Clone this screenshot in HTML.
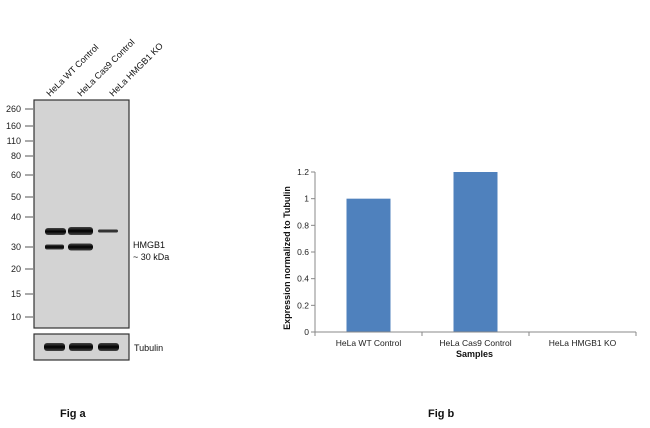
<!DOCTYPE html>
<html><head><meta charset="utf-8"><style>
body{margin:0;background:#fff;font-family:"Liberation Sans",sans-serif}
svg{display:block}
</style></head><body>
<svg width="650" height="428" font-family="Liberation Sans, sans-serif">
<defs>
<linearGradient id="band" x1="0" y1="0" x2="0" y2="1"><stop offset="0" stop-color="#444"/><stop offset="0.5" stop-color="#000"/><stop offset="1" stop-color="#444"/></linearGradient>
</defs>
<g>
<rect x="34" y="100" width="95" height="228" fill="#d3d3d3" stroke="#333" stroke-width="1.2"/>
<rect x="34" y="334" width="95" height="26" fill="#d3d3d3" stroke="#333" stroke-width="1.2"/>
<g id="markers" font-size="9" fill="#222"></g>
<g font-size="9" fill="#111">
<text transform="translate(50,97) rotate(-45)">HeLa WT Control</text>
<text transform="translate(81,97) rotate(-45)">HeLa Cas9 Control</text>
<text transform="translate(113,97) rotate(-45)">HeLa HMGB1 KO</text>
</g>
<g>
<rect x="45" y="228" width="21" height="7" rx="3" fill="url(#band)"/>
<rect x="68" y="227" width="25" height="8" rx="3" fill="url(#band)"/>
<rect x="98" y="229.5" width="20" height="3" rx="1.5" fill="#333"/>
<rect x="45" y="244.5" width="19" height="5" rx="2" fill="url(#band)"/>
<rect x="68" y="243.5" width="25" height="7" rx="3" fill="url(#band)"/>
<rect x="44" y="343" width="21" height="8" rx="3" fill="url(#band)"/>
<rect x="69" y="343" width="24" height="8" rx="3" fill="url(#band)"/>
<rect x="98" y="343" width="21" height="8" rx="3" fill="url(#band)"/>
</g>
<text x="133" y="248" font-size="9" fill="#111">HMGB1</text>
<text x="133" y="260" font-size="9" fill="#111">~ 30 kDa</text>
<text x="134" y="351" font-size="9" fill="#111">Tubulin</text>
<text x="60" y="417" font-size="11" font-weight="bold" fill="#111">Fig a</text>
</g>
<g id="chart"></g>
<text x="428" y="417" font-size="11" font-weight="bold" fill="#111">Fig b</text>
</svg>
<script>
const markerLabels=["260","160","110","80","60","50","40","30","20","15","10"];
const markerYs=[109,126,141,156,175,197,217,247,269,294,317];
const NS="http://www.w3.org/2000/svg";
const mg=document.getElementById('markers');
markerLabels.forEach((l,i)=>{
 const t=document.createElementNS(NS,'text');
 
 
 t.setAttribute('x',21);t.setAttribute('y',markerYs[i]+3);t.setAttribute('text-anchor','end');t.textContent=l;mg.appendChild(t);
 const ln=document.createElementNS(NS,'line');
 
 
 ln.setAttribute('x1',25);ln.setAttribute('x2',33);ln.setAttribute('y1',markerYs[i]);ln.setAttribute('y2',markerYs[i]);ln.setAttribute('stroke','#555');mg.appendChild(ln);
});

const categories=["HeLa WT Control","HeLa Cas9 Control","HeLa HMGB1 KO"];
const values=[1.0,1.2,0];
const yTicks=[0,0.2,0.4,0.6,0.8,1,1.2];
const X0=315,X1=636,Y0=332,Y1=172,YMAX=1.2;
const y=v=>Y0-(v/YMAX)*(Y0-Y1);
const bw=(X1-X0)/categories.length;
const xc=i=>X0+bw*(i+0.5);
const g=document.getElementById('chart');
function el(tag,attrs,txt){const e=document.createElementNS(NS,tag);for(const k in attrs)e.setAttribute(k,attrs[k]);if(txt!==undefined)e.textContent=txt;g.appendChild(e);return e;}
values.forEach((v,i)=>{
 const r=el('rect',{x:xc(i)-22,y:y(v),width:44,height:Y0-y(v),fill:'#4f81bd'});
 
 
});
const ax=el('line',{x1:X0,x2:X0,y1:Y1,y2:Y0,stroke:'#888'});


const bx=el('line',{x1:X0,x2:X1,y1:Y0,y2:Y0,stroke:'#888'});


yTicks.forEach(t=>{
 const tk=el('line',{x1:X0-4,x2:X0,y1:y(t),y2:y(t),stroke:'#888'});
 
 
 const tl=el('text',{x:X0-6,y:y(t)+3,'text-anchor':'end','font-size':'8.5',fill:'#222'},String(t));
 
 
});
for(let i=0;i<=categories.length;i++){
 const tk=el('line',{x1:X0+bw*i,x2:X0+bw*i,y1:Y0,y2:Y0+4,stroke:'#888'});
 
 
}
categories.forEach((c,i)=>{
 const t=el('text',{x:xc(i),y:Y0+14,'text-anchor':'middle','font-size':'8.5',fill:'#222'},c);
 
 
});
const xt=el('text',{x:(X0+X1)/2-1,y:Y0+25,'text-anchor':'middle','font-size':'9','font-weight':'bold',fill:'#111'},'Samples');


const yt=el('text',{transform:'translate(290,'+((Y0+Y1)/2+6)+') rotate(-90)','text-anchor':'middle','font-size':'9','font-weight':'bold',fill:'#111'},'Expression  normalized to Tubulin');


</script>
</body></html>
